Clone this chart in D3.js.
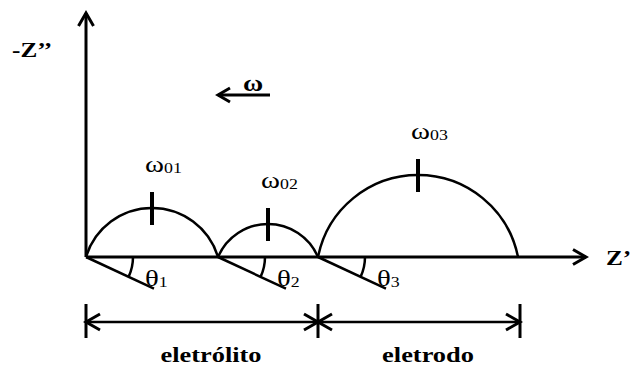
<!DOCTYPE html>
<html>
<head>
<meta charset="utf-8">
<script src="https://cdn.jsdelivr.net/npm/d3@7"></script>
<style>
    body { margin: 0; background: #fff; }
</style>
</head>
<body>
<script>
// dimensions
const width = 630;
const height = 366;
const serif = "'Liberation Serif', 'Times New Roman', serif";

// semicircles on the Z' axis (start, end, height in Z units)
const arcStart = [0, 132, 232];
const arcEnd = [132, 232, 432];
const arcHeight = [49, 33, 82];
const arcLabel = ["01", "02", "03"];
const thetaLabel = ["1", "2", "3"];

// dimension line below the plot
const dimBreaks = [0, 232, 434];
const dimLabels = ["eletrólito", "eletrodo"];

const thetaDeg = 25;
const stretch = 1.2;   // source image is stretched horizontally

let svg = d3.select("body")
    .append("svg")
    .attr("width", width)
    .attr("height", height);

let x = d3.scaleLinear().domain([0, 500]).range([86, 586]);
let y = d3.scaleLinear().domain([0, 244]).range([257, 13]);

// open chevron arrow head at (px,py) pointing in direction ang (radians)
function chevron(px, py, ang, len, half) {
    let bx = px - Math.cos(ang) * len, by = py - Math.sin(ang) * len;
    let nx = -Math.sin(ang) * half, ny = Math.cos(ang) * half;
    return "M" + (bx + nx) + "," + (by + ny) + "L" + px + "," + py + "L" + (bx - nx) + "," + (by - ny);
}

function label(px, py, size, bold, main, sub, anchor) {
    let t = svg.append("text")
        .attr("transform", "translate(" + px + "," + py + ") scale(" + stretch + ",1)")
        .style("font-family", serif)
        .attr("font-size", size)
        .attr("font-weight", bold ? "bold" : "normal")
        .attr("fill", "#000")
        .attr("text-anchor", anchor || "start");
    t.append("tspan").text(main);
    if (sub) {
        t.append("tspan").attr("font-size", size * 0.62).attr("dy", 1).text(sub);
    }
    return t;
}

// axes
svg.append("line")
    .attr("x1", x(0)).attr("y1", y(0))
    .attr("x2", x(0)).attr("y2", y(244))
    .attr("stroke", "#000").attr("stroke-width", 3);
svg.append("path")
    .attr("d", chevron(x(0), y(244), -Math.PI / 2, 13, 7.5))
    .attr("fill", "none").attr("stroke", "#000").attr("stroke-width", 3);

svg.append("line")
    .attr("x1", x(0)).attr("y1", y(0))
    .attr("x2", x(500)).attr("y2", y(0))
    .attr("stroke", "#000").attr("stroke-width", 3);
svg.append("path")
    .attr("d", chevron(x(500), y(0), 0, 13, 7.5))
    .attr("fill", "none").attr("stroke", "#000").attr("stroke-width", 3);

label(12, 57, 21, true, "-Z’’");
label(606, 265, 21, true, "Z’");

// frequency direction arrow
svg.append("line")
    .attr("x1", 218).attr("y1", 95).attr("x2", 270).attr("y2", 95)
    .attr("stroke", "#000").attr("stroke-width", 3);
svg.append("path")
    .attr("d", chevron(218, 95, Math.PI, 12, 7))
    .attr("fill", "none").attr("stroke", "#000").attr("stroke-width", 3);
label(243, 91, 23, true, "ω");

// depressed semicircles
arcStart.forEach(function (s, i) {
    let x0 = x(s), x1 = x(arcEnd[i]);
    let a = (x1 - x0) / 2;
    let h = y(0) - y(arcHeight[i]);
    let R = (a * a + h * h) / (2 * h);
    let cx = x0 + a, cy = y(0) + (R - h);
    let phi = Math.atan2(R - h, a);
    let p = d3.path();
    p.arc(cx, cy, R, -Math.PI + phi, -phi, false);
    svg.append("path")
        .attr("d", p.toString())
        .attr("fill", "none").attr("stroke", "#000").attr("stroke-width", 2.5);

    // peak frequency tick
    let peakY = y(arcHeight[i]);
    svg.append("line")
        .attr("x1", cx).attr("y1", peakY - 16)
        .attr("x2", cx).attr("y2", peakY + 17)
        .attr("stroke", "#000").attr("stroke-width", 4);
    label(cx - 7, peakY - 36, 24, false, "ω", arcLabel[i]);

    // depression angle line
    let t = thetaDeg * Math.PI / 180;
    svg.append("line")
        .attr("x1", x0).attr("y1", y(0))
        .attr("x2", x0 + Math.cos(t) * 75).attr("y2", y(0) + Math.sin(t) * 75)
        .attr("stroke", "#000").attr("stroke-width", 2.5);
    let arcGen = d3.arc().innerRadius(47).outerRadius(47)
        .startAngle(Math.PI / 2).endAngle(Math.PI / 2 + t);
    svg.append("path")
        .attr("transform", "translate(" + x0 + "," + y(0) + ")")
        .attr("d", arcGen())
        .attr("fill", "none").attr("stroke", "#000").attr("stroke-width", 2.5);
    label(x0 + 59, 286, 24, false, "θ", thetaLabel[i]);
});

// dimension line
let dimY = 322;
svg.append("line")
    .attr("x1", x(dimBreaks[0])).attr("y1", dimY)
    .attr("x2", x(dimBreaks[2])).attr("y2", dimY)
    .attr("stroke", "#000").attr("stroke-width", 2.5);
dimBreaks.forEach(function (b) {
    svg.append("line")
        .attr("x1", x(b)).attr("y1", dimY - 18)
        .attr("x2", x(b)).attr("y2", dimY + 16)
        .attr("stroke", "#000").attr("stroke-width", 3);
});
for (let i = 0; i < dimBreaks.length - 1; i++) {
    let a = x(dimBreaks[i]), b = x(dimBreaks[i + 1]);
    svg.append("path")
        .attr("d", chevron(a, dimY, Math.PI, 14, 8) + chevron(b, dimY, 0, 14, 8))
        .attr("fill", "none").attr("stroke", "#000").attr("stroke-width", 3);
    label((a + b) / 2 + 9, 362, 22, true, dimLabels[i], null, "middle");
}
</script>
</body>
</html>
